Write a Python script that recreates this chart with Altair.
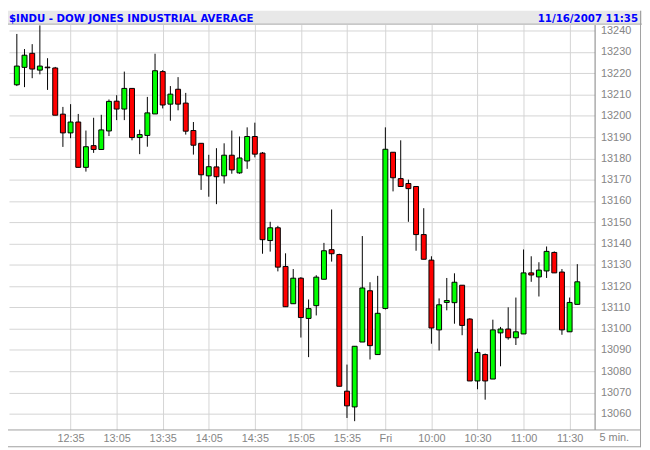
import json
import altair as alt
import pandas as pd

TITLE = "$INDU - DOW JONES INDUSTRIAL AVERAGE"
STAMP = "11/16/2007 11:35"
PERIOD = "5 min."

opens = [13214.6, 13222.8, 13229.4, 13221.5, 13222.9, 13222.5, 13200.8, 13192.0, 13197.1, 13175.8,
         13186.0, 13184.2, 13192.9, 13206.9, 13203.2, 13212.9, 13189.8, 13190.8, 13200.9, 13220.8,
         13205.5, 13212.5, 13206.0, 13193.1, 13187.1, 13171.8, 13176.0, 13171.8, 13181.5, 13173.2,
         13178.8, 13190.3, 13182.5, 13141.4, 13147.4, 13129.2, 13111.7, 13123.7, 13104.8, 13110.8,
         13123.2, 13137.1, 13134.8, 13070.6, 13063.2, 13093.7, 13117.8, 13087.8, 13109.5, 13182.9,
         13170.5, 13168.2, 13166.8, 13144.2, 13132.2, 13099.4, 13112.3, 13112.2, 13120.4, 13104.5,
         13075.4, 13087.8, 13076.3, 13098.0, 13099.8, 13095.7, 13097.5, 13126.2, 13124.3, 13127.1,
         13135.8, 13126.6, 13098.5, 13111.4]
highs = [13238.5, 13231.4, 13233.7, 13242.5, 13227.1, 13223.0, 13204.2, 13205.5, 13200.9, 13193.1,
         13199.1, 13200.5, 13207.7, 13209.7, 13220.8, 13212.9, 13193.5, 13208.9, 13229.2, 13221.5,
         13214.0, 13218.2, 13210.8, 13197.1, 13187.1, 13181.7, 13184.8, 13187.1, 13193.1, 13190.3,
         13194.6, 13196.8, 13183.0, 13150.2, 13148.3, 13135.4, 13128.0, 13124.2, 13113.7, 13125.1,
         13140.3, 13156.0, 13135.2, 13083.1, 13091.7, 13143.5, 13121.8, 13124.8, 13194.6, 13182.9,
         13188.5, 13170.0, 13166.8, 13156.6, 13134.0, 13114.2, 13123.8, 13126.0, 13120.4, 13104.9,
         13090.6, 13088.3, 13104.2, 13100.8, 13110.0, 13114.6, 13137.2, 13134.0, 13131.2, 13138.6,
         13136.3, 13128.0, 13114.6, 13130.3]
lows = [13214.0, 13213.5, 13217.7, 13219.5, 13212.2, 13200.3, 13185.4, 13189.5, 13175.8, 13173.8,
        13182.6, 13184.0, 13190.5, 13198.0, 13198.0, 13188.5, 13182.0, 13185.5, 13200.9, 13203.5,
        13197.7, 13202.6, 13191.2, 13181.8, 13165.2, 13162.0, 13158.5, 13168.2, 13172.8, 13172.8,
        13175.1, 13180.5, 13135.2, 13136.2, 13126.9, 13110.3, 13111.7, 13095.8, 13086.6, 13106.2,
        13123.2, 13131.5, 13072.9, 13058.0, 13056.5, 13093.7, 13085.5, 13087.8, 13109.0, 13164.5,
        13166.8, 13150.2, 13136.6, 13132.6, 13092.9, 13089.7, 13108.6, 13102.3, 13096.9, 13075.4,
        13071.5, 13066.6, 13076.3, 13082.3, 13094.8, 13092.3, 13097.5, 13122.0, 13115.1, 13123.8,
        13126.2, 13097.1, 13098.5, 13111.4]
closes = [13223.4, 13228.5, 13222.0, 13223.4, 13222.6, 13200.3, 13192.0, 13197.1, 13175.8, 13185.5,
          13184.2, 13193.4, 13206.8, 13203.2, 13212.9, 13189.8, 13191.2, 13201.4, 13221.2, 13205.1,
          13210.2, 13205.5, 13192.8, 13186.2, 13172.3, 13176.1, 13171.4, 13181.5, 13174.6, 13180.2,
          13190.3, 13182.0, 13141.8, 13147.4, 13128.9, 13110.3, 13123.7, 13105.2, 13109.4, 13124.2,
          13136.6, 13135.2, 13072.9, 13063.7, 13091.7, 13119.1, 13092.0, 13107.2, 13184.3, 13170.9,
          13166.8, 13165.8, 13144.2, 13132.6, 13100.3, 13111.2, 13113.2, 13121.8, 13101.5, 13075.4,
          13088.8, 13075.4, 13099.4, 13099.8, 13095.7, 13098.5, 13126.2, 13125.2, 13127.5, 13136.3,
          13126.2, 13099.4, 13112.3, 13122.0]

tick_index = [7, 13, 19, 25, 31, 37, 43, 48, 54, 60, 66, 72]
tick_labels = ["12:35", "13:05", "13:35", "14:05", "14:35", "15:05", "15:35", "Fri",
               "10:00", "10:30", "11:00", "11:30"]
y_ticks = list(range(13060, 13241, 10))

df = pd.DataFrame({
    "i": list(range(len(opens))),
    "open": opens, "high": highs, "low": lows, "close": closes,
})
df["dir"] = ["up" if c >= o else "down" for o, c in zip(opens, closes)]

one = pd.DataFrame({"k": [0]})

HFONT = "'Liberation Sans Narrow', 'Arial Narrow', 'DejaVu Sans Condensed', sans-serif"
FONT = "'Liberation Sans', Arial, sans-serif"
GRAY_TXT = "#858585"
GRID = "#d4d4d4"
LINE = "#a0a0a0"

label_expr = "%s[indexof(%s, datum.value)]" % (json.dumps(tick_labels), json.dumps(tick_index))

xs = alt.Scale(domain=[-0.379, 74.61], nice=False, zero=False)
ys = alt.Scale(domain=[13052.6, 13242.9], nice=False, zero=False)

x_enc = alt.X("i:Q", scale=xs, axis=alt.Axis(
    values=tick_index, labelExpr=label_expr, grid=True, gridColor=GRID,
    ticks=False, tickSize=0, domain=False, labelPadding=9, labelBaseline="middle",
    labelAlign="center", labelFlush=False, labelOverlap=False,
    labelColor=GRAY_TXT, labelFont=FONT, labelFontSize=11, title=None))

y_axis = alt.Axis(orient="right", values=y_ticks, grid=True, gridColor=GRID,
                  ticks=False, tickSize=0, domain=True, domainColor="#808080",
                  labelPadding=6, labelColor=GRAY_TXT, labelFont=FONT,
                  labelFontSize=11, format="d", title=None)

header_bg = alt.Chart(one).mark_rect(fill="#e8e8e8").encode(
    x=alt.value(-1), x2=alt.value(641), y=alt.value(-14), y2=alt.value(-1))
header_line = alt.Chart(one).mark_rule(color=LINE, strokeWidth=1).encode(
    x=alt.value(-1), x2=alt.value(641), y=alt.value(-0.5))

wicks = alt.Chart(df).mark_rule(color="black", strokeWidth=1).encode(
    x=x_enc,
    y=alt.Y("low:Q", scale=ys, axis=y_axis),
    y2="high:Q")

bodies = alt.Chart(df).mark_bar(size=5, stroke="black", strokeWidth=1, cornerRadius=0).encode(
    x=x_enc,
    y=alt.Y("open:Q", scale=ys, axis=y_axis),
    y2="close:Q",
    color=alt.Color("dir:N", scale=alt.Scale(domain=["up", "down"], range=["#00ff00", "#ff0000"]),
                    legend=None))

title_l = alt.Chart(one).mark_text(font=HFONT, fontWeight="bold", fontSize=11.5, color="#0000ff",
                                   align="left", baseline="alphabetic").encode(
    x=alt.value(0), y=alt.value(-3), text=alt.value(TITLE))
title_r = alt.Chart(one).mark_text(font=HFONT, fontWeight="bold", fontSize=11.5, color="#0000ff",
                                   align="right", baseline="alphabetic").encode(
    x=alt.value(637), y=alt.value(-3), text=alt.value(STAMP))
period = alt.Chart(one).mark_text(font=FONT, fontSize=11, color=GRAY_TXT,
                                  align="left", baseline="middle").encode(
    x=alt.value(598), y=alt.value(419), text=alt.value(PERIOD))

bottom_line = alt.Chart(one).mark_rule(color=LINE, strokeWidth=1).encode(
    x=alt.value(-1), x2=alt.value(639.5), y=alt.value(410.5))
bottom_border = alt.Chart(one).mark_rule(color=LINE, strokeWidth=1).encode(
    x=alt.value(-1), x2=alt.value(639.5), y=alt.value(427.5))
right_border = alt.Chart(one).mark_rule(color=LINE, strokeWidth=1).encode(
    x=alt.value(639.5), y=alt.value(-14), y2=alt.value(428))

chart = alt.layer(
    header_bg, header_line, wicks, bodies, title_l, title_r, period,
    bottom_line, bottom_border, right_border
).properties(
    width=593, height=410,
    padding={"left": 1, "top": 14, "right": 48, "bottom": 18},
    autosize=alt.AutoSizeParams(type="none"),
    background="white",
).configure_view(strokeWidth=0)

chart.save("out.html", embed_options={"renderer": "svg", "actions": False})
